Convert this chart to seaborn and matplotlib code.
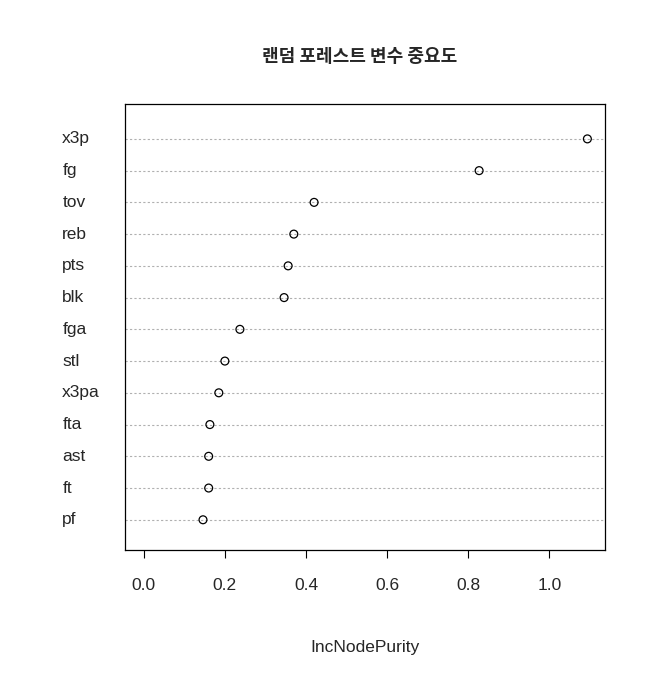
import matplotlib
matplotlib.use("Agg")
import matplotlib.pyplot as plt
import seaborn as sns
import pandas as pd

variables = ["x3p", "fg", "tov", "reb", "pts", "blk", "fga", "stl", "x3pa", "fta", "ast", "ft", "pf"]
importance = [1.094, 0.827, 0.420, 0.370, 0.356, 0.346, 0.237, 0.200, 0.185, 0.163, 0.160, 0.160, 0.146]
x_ticks = [0.0, 0.2, 0.4, 0.6, 0.8, 1.0]

df = pd.DataFrame({"var": variables, "imp": importance, "pos": range(len(variables))})

sns.set_style("white")
plt.rcParams["font.family"] = ["Noto Sans CJK KR", "DejaVu Sans"]

fig = plt.figure(figsize=(6.6, 6.84), dpi=100)
ax = fig.add_axes([0.189, 0.196, 0.728, 0.652])

for p in df["pos"]:
    ax.axhline(p, color="#b0b0b0", linestyle=(0, (2, 2)), linewidth=0.8, zorder=1)

sns.scatterplot(data=df, x="imp", y="pos", ax=ax, s=32, facecolor="none",
                edgecolor="black", linewidth=0.9, zorder=3)

ax.set_xlim(-0.047, 1.138)
ax.set_ylim(12.95, -1.1)
ax.set_xticks(x_ticks)
ax.set_xticklabels([f"{t:.1f}" for t in x_ticks], fontsize=12.5, family="Liberation Sans")
ax.set_yticks([])
for p, v in zip(df["pos"], df["var"]):
    ax.text(-0.13, p, v, ha="left", va="center", fontsize=12.5,
            family="Liberation Sans", transform=ax.get_yaxis_transform())
ax.tick_params(axis="x", length=6, width=0.8, color="black", bottom=True, pad=14)
for s in ax.spines.values():
    s.set_color("black")
    s.set_linewidth(0.9)
ax.set_xlabel("IncNodePurity", fontsize=12.5, family="Liberation Sans", labelpad=34)
ax.set_ylabel("")
fig.text(0.545, 0.917, "랜덤 포레스트 변수 중요도", ha="center", va="center",
         fontsize=13, fontweight="bold")

fig.savefig("out.png", dpi=100)
